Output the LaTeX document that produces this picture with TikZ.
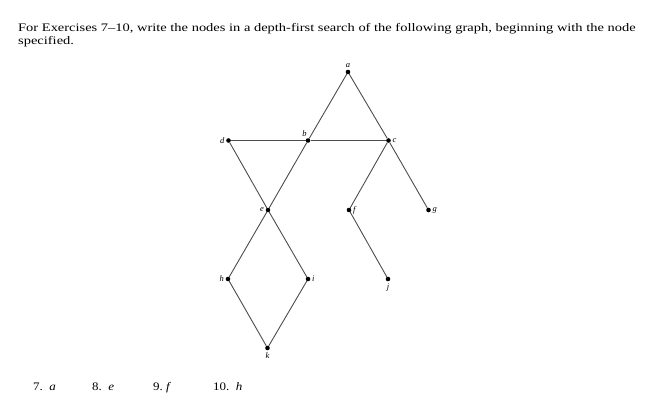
\documentclass[tikz,border=0pt]{standalone}
\usepackage{fontspec}
\usepackage{graphicx}
\setmainfont{Liberation Serif}
\begin{document}
\begin{tikzpicture}[x=1pt,y=-1pt,
  vtx/.style={circle,fill=black,inner sep=0pt,minimum size=4.6pt},
  edge/.style={draw=black!70,line width=0.9pt},
  lbl/.style={font=\fontsize{8.5}{9}\selectfont\itshape,inner sep=1pt},
  para/.style={font=\fontsize{11.5}{13}\selectfont,anchor=base west,inner sep=0pt},
  ex/.style={font=\fontsize{11.5}{13}\selectfont,anchor=base west,inner sep=0pt}]
\useasboundingbox (0,0) rectangle (665,401);
\node[para] (t1) at (18,31.3) {\scalebox{1.258}[1]{For Exercises 7--10, write the nodes in a depth-first search of the following graph, beginning with the node}};
\node[para] (t2) at (18,44.3) {\scalebox{1.258}[1]{specified.}};
\node[vtx] (a) at (348,72) {};
\node[vtx] (b) at (308,140.5) {};
\node[vtx] (c) at (388.5,140.5) {};
\node[vtx] (d) at (228.5,140.5) {};
\node[vtx] (e) at (268,210) {};
\node[vtx] (f) at (349,210) {};
\node[vtx] (g) at (428.5,210) {};
\node[vtx] (h) at (228,279) {};
\node[vtx] (i) at (308,279) {};
\node[vtx] (j) at (388,279) {};
\node[vtx] (k) at (267.5,348) {};
\draw[edge] (a) -- (b);
\draw[edge] (a) -- (c);
\draw[edge] (d) -- (b);
\draw[edge] (b) -- (c);
\draw[edge] (d) -- (e);
\draw[edge] (b) -- (e);
\draw[edge] (c) -- (f);
\draw[edge] (c) -- (g);
\draw[edge] (f) -- (j);
\draw[edge] (e) -- (h);
\draw[edge] (e) -- (i);
\draw[edge] (h) -- (k);
\draw[edge] (i) -- (k);
\node[lbl,anchor=south] (la) at ([yshift=0.5pt]a.north) {a};
\node[lbl,anchor=south east] (lb) at ([xshift=1.5pt,yshift=0.5pt]b.north west) {b};
\node[lbl,anchor=west] (lc) at ([xshift=0.5pt]c.east) {c};
\node[lbl,anchor=east] (ld) at ([xshift=-0.5pt]d.west) {d};
\node[lbl,anchor=east] (le) at ([xshift=-0.5pt]e.west) {e};
\node[lbl,anchor=west] (lf) at ([xshift=0.5pt]f.east) {f};
\node[lbl,anchor=west] (lg) at ([xshift=0.5pt]g.east) {g};
\node[lbl,anchor=east] (lh) at ([xshift=-0.5pt]h.west) {h};
\node[lbl,anchor=west] (li) at ([xshift=0.5pt]i.east) {i};
\node[lbl,anchor=north] (lj) at ([yshift=-1pt]j.south) {j};
\node[lbl,anchor=north] (lk) at ([yshift=-1pt]k.south) {k};
\node[ex] (e7) at (33,390.5) {\scalebox{1.13}[1]{7.\ \ \textit{a}}};
\node[ex] (e8) at (92,390.5) {\scalebox{1.13}[1]{8.\ \ \textit{e}}};
\node[ex] (e9) at (153,390.5) {\scalebox{1.13}[1]{9.\ \textit{f}}};
\node[ex] (e10) at (213,390.5) {\scalebox{1.13}[1]{10.\ \ \textit{h}}};
\end{tikzpicture}
\end{document}
